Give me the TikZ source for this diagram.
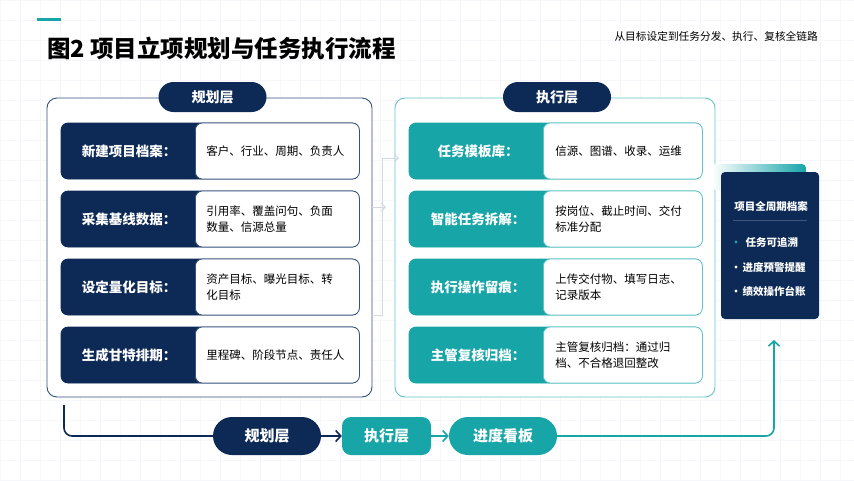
\documentclass[tikz,border=0pt]{standalone}
\usepackage{fontspec}
\setmainfont{Noto Sans CJK SC}
\usetikzlibrary{arrows.meta}
\definecolor{navy}{HTML}{0D2A56}
\definecolor{navyline}{HTML}{34527F}
\definecolor{teal}{HTML}{17A5A8}
\definecolor{tealline}{HTML}{62C4C4}
\definecolor{faint}{HTML}{D3DAE3}
\definecolor{gridgray}{HTML}{F5F7FA}
\definecolor{sepgray}{HTML}{3E567E}
\tikzset{
  panel/.style={draw=#1, line width=0.9pt, fill=white, rounded corners=10pt, minimum height=299pt},
  header/.style={fill=navy, text=white, rounded corners=15pt, minimum width=108pt, minimum height=30pt, font=\bfseries\fontsize{14}{16}\selectfont},
  rowbase/.style={draw=#1, fill=#1, line width=0.8pt, rounded corners=7pt, minimum height=56pt},
  keytext/.style={text=white, font=\bfseries\fontsize{13.5}{16}\selectfont},
  detail/.style={draw=#1, line width=0.8pt, fill=white, rounded corners=7pt, minimum height=56pt, anchor=west, align=left, inner xsep=11pt, text width=142pt, font=\fontsize{11.5}{16}\selectfont},
  flowpill/.style={fill=#1, text=white, minimum height=38pt, font=\bfseries\fontsize{15}{17}\selectfont},
  flowline/.style={draw=#1, line width=1.6pt, -{Straight Barb[length=5pt,width=11pt]}},
  faintline/.style={draw=faint, line width=1pt},
  itemtext/.style={text=white, anchor=west, font=\bfseries\fontsize{10.5}{12}\selectfont},
}
\begin{document}
\begin{tikzpicture}[x=1pt, y=-1pt]
  \useasboundingbox (0,0) rectangle (854,480);
  \fill[white] (0,0) rectangle (854,480);
  \draw[gridgray, line width=0.4pt, step=20pt] (0,0) grid (854,480);
  \draw[teal, line width=3pt] (37,19) -- (61,19);
  \node[anchor=west, inner sep=0pt, font=\bfseries\fontsize{23.5}{26}\selectfont] (title) at (47,48) {图2 项目立项规划与任务执行流程};
  \node[anchor=east, inner sep=0pt, font=\fontsize{10.7}{12}\selectfont] (subtitle) at (818,36) {从目标设定到任务分发、执行、复核全链路};

  \node[panel=navyline, minimum width=325pt] (plan) at (209.5,247.5) {};
  \node[panel=tealline, minimum width=320pt] (exec) at (555,247.5) {};
  \node[header] (planhead) at (212.5,97) {规划层};
  \node[header] (exechead) at (557,97) {执行层};

  \node[rowbase=navy, minimum width=298pt] (p1) at (210,151) {};
  \node[keytext] (pk1) at (129,151) {新建项目档案：};
  \node[detail=navyline, minimum width=164pt] (pd1) at (195,151) {客户、行业、周期、负责人};
  \node[rowbase=navy, minimum width=298pt] (p2) at (210,219) {};
  \node[keytext] (pk2) at (129,219) {采集基线数据：};
  \node[detail=navyline, minimum width=164pt] (pd2) at (195,219) {引用率、覆盖问句、负面\\数量、信源总量};
  \node[rowbase=navy, minimum width=298pt] (p3) at (210,287) {};
  \node[keytext] (pk3) at (129,287) {设定量化目标：};
  \node[detail=navyline, minimum width=164pt] (pd3) at (195,287) {资产目标、曝光目标、转\\化目标};
  \node[rowbase=navy, minimum width=298pt] (p4) at (210,355) {};
  \node[keytext] (pk4) at (129,355) {生成甘特排期：};
  \node[detail=navyline, minimum width=164pt] (pd4) at (195,355) {里程碑、阶段节点、责任人};

  \node[rowbase=teal, minimum width=293pt] (e1) at (555.5,151) {};
  \node[keytext] (ek1) at (478,151) {任务模板库：};
  \node[detail=tealline, minimum width=159pt, inner xsep=12pt, text width=135pt] (ed1) at (543,151) {信源、图谱、收录、运维};
  \node[rowbase=teal, minimum width=293pt] (e2) at (555.5,219) {};
  \node[keytext] (ek2) at (478,219) {智能任务拆解：};
  \node[detail=tealline, minimum width=159pt, inner xsep=12pt, text width=135pt] (ed2) at (543,219) {按岗位、截止时间、交付\\标准分配};
  \node[rowbase=teal, minimum width=293pt] (e3) at (555.5,287) {};
  \node[keytext] (ek3) at (478,287) {执行操作留痕：};
  \node[detail=tealline, minimum width=159pt, inner xsep=12pt, text width=135pt] (ed3) at (543,287) {上传交付物、填写日志、\\记录版本};
  \node[rowbase=teal, minimum width=293pt] (e4) at (555.5,355) {};
  \node[keytext] (ek4) at (478,355) {主管复核归档：};
  \node[detail=tealline, minimum width=159pt, inner xsep=12pt, text width=135pt] (ed4) at (543,355) {主管复核归档：通过归\\档、不合格退回整改};

  \coordinate (j1) at (386,207);
  \coordinate (j2) at (382,158);
  \coordinate (j3) at (382,315);
  \coordinate (j4) at (399,158);
  \draw[faintline, -{Straight Barb[length=4pt,width=8pt]}] (plan.east |- j1) -- (j1);
  \draw[faintline, -{Straight Barb[length=4pt,width=8pt]}] (plan.east |- j3) -- (j3) -- (j2) -- (j4);

  \shade[left color=white, right color=teal, rounded corners=4pt] (712,164) rectangle (806,190);
  \node[fill=navy, rounded corners=4pt, minimum width=98pt, minimum height=147pt] (archive) at (770,245.5) {};
  \node[text=white, font=\bfseries\fontsize{10.5}{12}\selectfont] (archtitle) at (771,206) {项目全周期档案};
  \draw[sepgray, line width=0.8pt] ([xshift=-37pt]archive.center |- 0,220) -- ([xshift=37pt]archive.center |- 0,220);
  \node[itemtext] (a1) at (742,242) {任务可追溯};
  \node[itemtext] (a2) at (739,267) {进度预警提醒};
  \node[itemtext] (a3) at (739,291) {绩效操作台账};
  \fill[teal] ([xshift=-6pt]a1.west) circle (1.6pt);
  \fill[white] ([xshift=-3pt]a2.west) circle (1.6pt);
  \fill[white] ([xshift=-3pt]a3.west) circle (1.6pt);

  \node[flowpill=navy, rounded corners=19pt, minimum width=108pt] (f1) at (267,436) {规划层};
  \node[flowpill=teal, rounded corners=9pt, minimum width=89pt] (f2) at (386.5,436) {执行层};
  \node[flowpill=teal, rounded corners=19pt, minimum width=108pt] (f3) at (503,436) {进度看板};
  \coordinate (fstart) at (64,405);
  \coordinate (atip) at (774,340);
  \draw[navy, line width=1.6pt, rounded corners=8pt] (fstart) |- (f1.west);
  \draw[flowline=navy] (f1) -- (f2);
  \draw[flowline=teal] (f2) -- (f3);
  \draw[flowline=teal, rounded corners=8pt] (f3.east) -| (atip);
\end{tikzpicture}
\end{document}
